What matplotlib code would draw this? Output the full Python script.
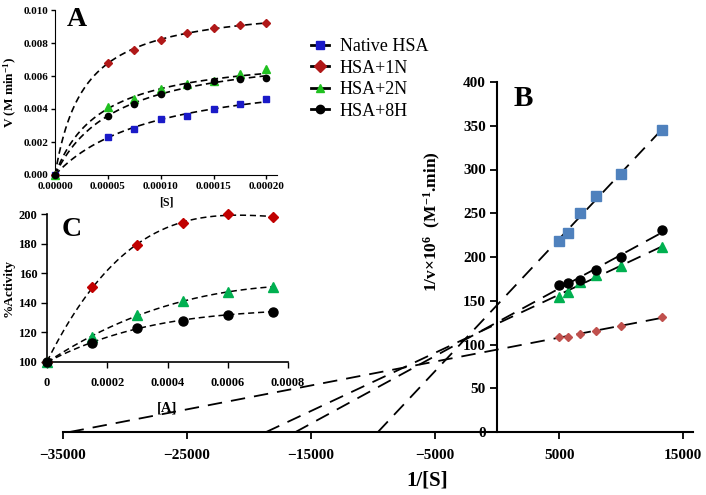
import numpy as np
import matplotlib
matplotlib.use("Agg")
import matplotlib.pyplot as plt

plt.rcParams['font.family'] = ['Liberation Serif', 'DejaVu Serif']
plt.rcParams['font.weight'] = 'bold'
plt.rcParams['mathtext.fontset'] = 'custom'
plt.rcParams['mathtext.rm'] = 'Liberation Serif:bold'
plt.rcParams['mathtext.it'] = 'Liberation Serif:bold'
plt.rcParams['mathtext.bf'] = 'Liberation Serif:bold'

# ---- data ----
names = ["Native HSA", "HSA+1N", "HSA+2N", "HSA+8H"]

# panel A : V vs [S]
S = np.array([0, 0.00005, 0.000075, 0.0001, 0.000125, 0.00015, 0.000175, 0.0002])
V_native = np.array([0, 0.0023, 0.0028, 0.0034, 0.0036, 0.0040, 0.0043, 0.0046])
V_1N = np.array([0, 0.0068, 0.0076, 0.0082, 0.0086, 0.0089, 0.0091, 0.0092])
V_2N = np.array([0, 0.0041, 0.0046, 0.0052, 0.0055, 0.0057, 0.0061, 0.0064])
V_8H = np.array([0, 0.0036, 0.0043, 0.0049, 0.0054, 0.0057, 0.0058, 0.0059])

# panel B : Lineweaver-Burk
invS = np.array([5000, 5714, 6667, 8000, 10000, 13333])
invV_native = np.array([218, 228, 250, 270, 295, 345])
invV_1N = np.array([109, 109, 112, 116, 121, 131])
invV_2N = np.array([154, 160, 172, 179, 190, 211])
invV_8H = np.array([168, 170, 174, 185, 200, 231])

# panel C : %activity vs [A]
A = np.array([0, 0.00015, 0.0003, 0.00045, 0.0006, 0.00075])
act_1N = np.array([100, 151, 179, 194, 200, 198])
act_2N = np.array([100, 117, 132, 141, 147, 151])
act_8H = np.array([100, 113, 123, 128, 132, 134])

cA = {"Native HSA": "#1a1ac8", "HSA+1N": "#b01818", "HSA+2N": "#20c020", "HSA+8H": "black"}
cB = {"Native HSA": "#4f81bd", "HSA+1N": "#c0504d", "HSA+2N": "#00b050", "HSA+8H": "black"}
mk = {"Native HSA": "s", "HSA+1N": "D", "HSA+2N": "^", "HSA+8H": "o"}

fig = plt.figure(figsize=(7.06, 4.95), dpi=100)

# ---------- panel B (main) ----------
ax = fig.add_axes([63/706, 63/495, 630/706, 350/495])
ax.set_facecolor('none')
Bdata = [("Native HSA", invV_native, 6.5), ("HSA+1N", invV_1N, 4.5), ("HSA+2N", invV_2N, 7), ("HSA+8H", invV_8H, 6.5)]
for n, y, ms in Bdata:
    k, b = np.polyfit(invS, y, 1)
    x0 = max(-b/k, -35000)
    xs = np.array([x0, invS[-1]])
    ax.plot(xs, k*xs + b, color='black', lw=1.3, dashes=(8, 5))
    ax.plot(invS, y, ls='none', marker=mk[n], color=cB[n], ms=ms, zorder=3)
ax.set_xlim(-35000, 15800)
ax.set_ylim(0, 400)
ax.spines['left'].set_position(('data', 0))
ax.spines['top'].set_visible(False)
ax.spines['right'].set_visible(False)
ax.spines['left'].set_linewidth(1.5)
ax.spines['bottom'].set_linewidth(1.5)
ax.set_xticks([-35000, -25000, -15000, -5000, 5000, 15000])
ax.set_yticks(np.arange(0, 401, 50))
ax.tick_params(labelsize=11, width=1.3, length=5, pad=7)
ax.tick_params(axis='y', pad=3)
for t in ax.get_xticklabels() + ax.get_yticklabels():
    t.set_fontweight('bold')
fig.text(432/706, 1-222/495, r"1/v$\times$10$^{6}$  (M$^{-1}$.min)", rotation=90,
         ha='center', va='center', fontsize=12.5, fontweight='bold')
fig.text(427/706, 1-480/495, "1/[S]", ha='center', va='center', fontsize=15, fontweight='bold')
fig.text(523/706, 1-99/495, "B", ha='center', va='center', fontsize=21, fontweight='bold')

# ---------- panel A ----------
axA = fig.add_axes([55/706, 1-175/495, 222/706, 165/495])
axA.set_facecolor('none')
Sf = np.linspace(0, 0.0002, 200)
for n, v, ms in [("Native HSA", V_native, 4.5), ("HSA+1N", V_1N, 4.5), ("HSA+2N", V_2N, 5.5), ("HSA+8H", V_8H, 4.5)]:
    sl, ic = np.polyfit(1/S[1:], 1/v[1:], 1)
    vmax = 1/ic
    km = sl*vmax
    axA.plot(Sf, vmax*Sf/(km+Sf), color='black', lw=1.2, dashes=(4, 2.5))
    axA.plot(S, v, ls='none', marker=mk[n], color=cA[n], ms=ms, zorder=3, clip_on=False)
axA.set_xlim(0, 0.00021)
axA.set_ylim(0, 0.010)
axA.set_xticks([0, 0.00005, 0.0001, 0.00015, 0.0002])
axA.set_xticklabels(["0.00000", "0.00005", "0.00010", "0.00015", "0.00020"])
axA.set_yticks(np.arange(0, 0.0101, 0.002))
axA.set_yticklabels(["0.000", "0.002", "0.004", "0.006", "0.008", "0.010"])
axA.spines['top'].set_visible(False)
axA.spines['right'].set_visible(False)
axA.tick_params(labelsize=8, width=1, length=3, pad=2)
axA.set_xlabel("[S]", fontsize=8.5, fontweight='bold', labelpad=4)
axA.set_ylabel("V (M min$^{-1}$)", fontsize=9.5, fontweight='bold', labelpad=3)
fig.text(77/706, 1-20/495, "A", ha='center', va='center', fontsize=20, fontweight='bold')

# ---------- panel C ----------
axC = fig.add_axes([47/706, 1-362/495, 241/706, 148/495])
axC.set_facecolor('none')
Af = np.linspace(0, 0.00075, 200)
for n, y, ms in [("HSA+1N", act_1N, 5), ("HSA+2N", act_2N, 6.5), ("HSA+8H", act_8H, 6.5)]:
    p = np.polyfit(A, y, 3)
    axC.plot(Af, np.polyval(p, Af), color='black', lw=1.1, dashes=(4, 2.5))
    axC.plot(A, y, ls='none', marker=mk[n], color=cB[n] if n != "HSA+1N" else "#c00000",
             ms=ms, zorder=3, clip_on=False)
axC.set_xlim(0, 0.0008)
axC.set_ylim(100, 200)
axC.set_xticks([0, 0.0002, 0.0004, 0.0006, 0.0008])
axC.set_xticklabels(["0", "0.0002", "0.0004", "0.0006", "0.0008"])
axC.set_yticks(np.arange(100, 201, 20))
axC.spines['top'].set_visible(False)
axC.spines['right'].set_visible(False)
axC.spines['left'].set_linewidth(1.2)
axC.spines['bottom'].set_linewidth(1.2)
axC.tick_params(labelsize=9, width=1, length=4, pad=3)
axC.tick_params(axis='x', pad=7)
axC.set_xlabel("[A]", fontsize=10.5, fontweight='bold', labelpad=9)
axC.set_ylabel("%Activity", fontsize=9.5, fontweight='bold', labelpad=3)
fig.text(72/706, 1-230/495, "C", ha='center', va='center', fontsize=20, fontweight='bold')

# ---------- legend ----------
handles = [plt.Line2D([], [], color='black', lw=2, marker=mk[n], mfc=cA[n], mec=cA[n], ms=6)
           for n in names]
fig.legend(handles, names, loc='upper left', bbox_to_anchor=(311/706, 1-38/495),
           frameon=False, handlelength=1.0, handletextpad=0.6, labelspacing=0.25,
           borderpad=0, borderaxespad=0,
           prop={'family': 'Liberation Serif', 'weight': 'normal', 'size': 13})

fig.savefig("out.png", dpi=100)
